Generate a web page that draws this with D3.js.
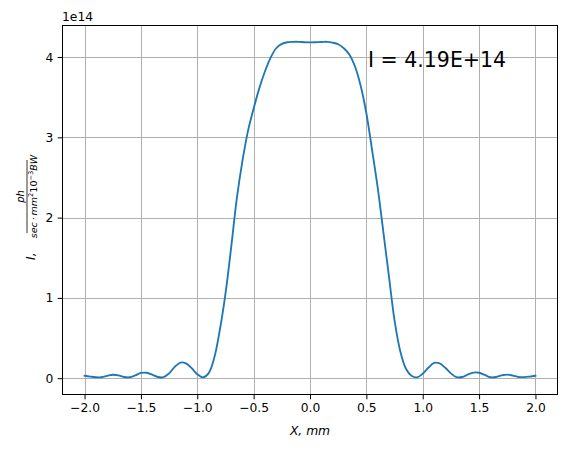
<!DOCTYPE html>
<html>
<head>
<meta charset="utf-8">
<script src="https://cdn.jsdelivr.net/npm/d3@7"></script>
<style>
  html, body { margin: 0; padding: 0; background: #fff; }
  svg { display: block; font-family: "DejaVu Sans", sans-serif; }
</style>
</head>
<body>
<svg id="chart" width="567" height="450"></svg>
<script>
// ---- data ----
const xValues = [
  -2.00,-1.95,-1.90,-1.85,-1.80,-1.75,-1.70,-1.65,-1.60,-1.55,
  -1.50,-1.45,-1.40,-1.35,-1.30,-1.25,-1.20,-1.15,-1.10,-1.05,
  -1.00,-0.95,-0.90,-0.85,-0.80,-0.75,-0.70,-0.65,-0.60,-0.55,
  -0.50,-0.45,-0.40,-0.35,-0.30,-0.25,-0.20,-0.15,-0.10,-0.05,
   0.00, 0.05, 0.10, 0.15, 0.20, 0.25, 0.30, 0.35, 0.40, 0.45,
   0.50, 0.55, 0.60, 0.65, 0.70, 0.75, 0.80, 0.85, 0.90, 0.95,
   1.00, 1.05, 1.10, 1.15, 1.20, 1.25, 1.30, 1.35, 1.40, 1.45,
   1.50, 1.55, 1.60, 1.65, 1.70, 1.75, 1.80, 1.85, 1.90, 1.95, 2.00
];
// intensity in units of 1e14
const intensity = [
  0.030,0.020,0.012,0.012,0.028,0.043,0.035,0.015,0.012,0.035,
  0.065,0.068,0.045,0.015,0.012,0.060,0.140,0.195,0.185,0.125,
  0.050,0.010,0.060,0.250,0.600,1.050,1.620,2.230,2.700,3.080,
  3.360,3.610,3.820,3.990,4.110,4.165,4.185,4.190,4.190,4.185,
  4.183,4.185,4.188,4.190,4.180,4.160,4.110,4.030,3.880,3.640,
  3.300,2.850,2.380,1.830,1.270,0.720,0.340,0.120,0.030,0.010,
  0.055,0.130,0.190,0.185,0.130,0.060,0.012,0.015,0.045,0.070,
  0.068,0.040,0.012,0.015,0.035,0.045,0.032,0.015,0.013,0.020,0.030
];
const xTicks = [-2.0,-1.5,-1.0,-0.5,0.0,0.5,1.0,1.5,2.0];
const xTickLabels = ["\u22122.0","\u22121.5","\u22121.0","\u22120.5","0.0","0.5","1.0","1.5","2.0"];
const yTicks = [0,1,2,3,4];
const yTickLabels = ["0","1","2","3","4"];
const offsetLabel = "1e14";
const annotation = "I = 4.19E+14";

// ---- layout ----
const svg = d3.select("#chart");
const L = 62, R = 558, T = 25, B = 395;
const x = d3.scaleLinear().domain([-2.2, 2.2]).range([L, R]);
const y = d3.scaleLinear().domain([-0.2095, 4.3995]).range([B, T]);

// grid
const grid = svg.append("g");
grid.selectAll("line.gx").data(xTicks).join("line")
  .attr("x1", d => Math.round(x(d)) + 0.5).attr("x2", d => Math.round(x(d)) + 0.5)
  .attr("y1", T).attr("y2", B)
  .attr("stroke", "#b0b0b0").attr("stroke-width", 1);
grid.selectAll("line.gy").data(yTicks).join("line")
  .attr("y1", d => Math.round(y(d)) + 0.5).attr("y2", d => Math.round(y(d)) + 0.5)
  .attr("x1", L).attr("x2", R)
  .attr("stroke", "#b0b0b0").attr("stroke-width", 1);

// curve
const pts = xValues.map((v, i) => [v, intensity[i]]);
svg.append("path")
  .datum(pts)
  .attr("fill", "none")
  .attr("stroke", "#1f77b4")
  .attr("stroke-width", 1.85)
  .attr("stroke-linejoin", "round")
  .attr("stroke-linecap", "square")
  .attr("d", d3.line().x(d => x(d[0])).y(d => y(d[1])).curve(d3.curveCatmullRom.alpha(0.5)));

// axes
const xAxis = d3.axisBottom(x).tickValues(xTicks)
  .tickFormat((d, i) => xTickLabels[i]).tickSize(4.3).tickPadding(4.3);
const gx = svg.append("g").attr("transform", `translate(0,${B})`).call(xAxis);
const yAxis = d3.axisLeft(y).tickValues(yTicks)
  .tickFormat((d, i) => yTickLabels[i]).tickSize(4.3).tickPadding(4.3);
const gy = svg.append("g").attr("transform", `translate(${L},0)`).call(yAxis);
[gx, gy].forEach(g => {
  g.select(".domain").remove();
  g.selectAll("text").attr("font-family", "DejaVu Sans").attr("font-size", 12.3).attr("fill", "#000");
  g.selectAll("line").attr("stroke", "#000").attr("stroke-width", 1);
});

// frame
svg.append("rect").attr("x", L + 0.5).attr("y", T + 0.5)
  .attr("width", R - L - 1).attr("height", B - T - 1)
  .attr("fill", "none").attr("stroke", "#000").attr("stroke-width", 1);

// offset text
svg.append("text").attr("x", L).attr("y", 21).attr("font-size", 12.3).text(offsetLabel);

// x label
svg.append("text").attr("x", (L + R) / 2).attr("y", 435).attr("text-anchor", "middle")
  .attr("font-size", 12.3).attr("font-style", "italic").text("X, mm");

// y label (mathtext-like fraction), rotated
const yl = svg.append("g").attr("transform", "translate(27,210) rotate(-90)");
yl.append("text").attr("x", -50).attr("y", 8).attr("font-size", 12.3)
  .attr("font-style", "italic").text("I,");
yl.append("line").attr("x1", -23).attr("x2", 50).attr("y1", 0).attr("y2", 0)
  .attr("stroke", "#000").attr("stroke-width", 0.8);
yl.append("text").attr("x", 13.5).attr("y", -3).attr("text-anchor", "middle")
  .attr("font-size", 10).attr("font-style", "italic").text("ph");
const den = yl.append("text").attr("x", 13.5).attr("y", 9.5).attr("text-anchor", "middle")
  .attr("font-size", 9.5).attr("font-style", "italic");
den.append("tspan").text("sec\u2009\u00b7\u2009mm");
den.append("tspan").attr("font-size", 6.7).attr("dy", -3.5).attr("font-style", "normal").text("2");
den.append("tspan").attr("dy", 3.5).attr("font-style", "normal").text("10");
den.append("tspan").attr("font-size", 6.7).attr("dy", -3.5).attr("font-style", "normal").text("\u22123");
den.append("tspan").attr("dy", 3.5).text("BW");

// annotation
svg.append("text").attr("x", 368).attr("y", 67).attr("font-size", 20.5).text(annotation);
</script>
</body>
</html>
